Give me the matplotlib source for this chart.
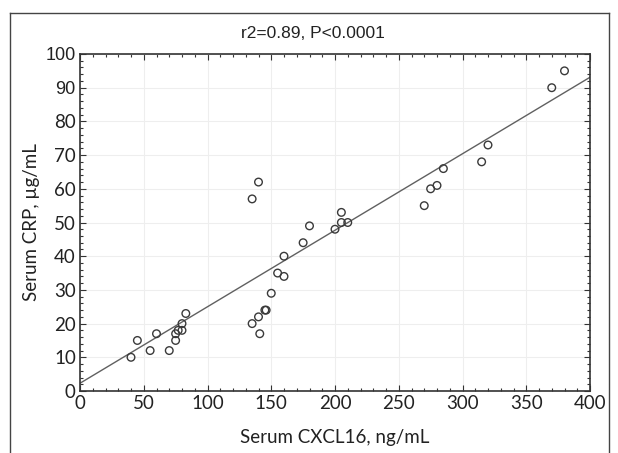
import matplotlib.pyplot as plt
from matplotlib.lines import Line2D
from matplotlib.ticker import MultipleLocator

# serum CXCL16 (ng/mL) vs serum CRP (ug/mL)
cxcl16 = [40, 45, 55, 60, 70, 75, 75, 77, 80, 80, 83,
          135, 140, 135, 140, 141, 145, 146, 150, 155, 160, 160,
          175, 180, 200, 205, 210, 205,
          270, 275, 280, 285, 315, 320, 370, 380]
crp = [10, 15, 12, 17, 12, 15, 17, 18, 18, 20, 23,
       57, 62, 20, 22, 17, 24, 24, 29, 35, 34, 40,
       44, 49, 48, 50, 50, 53,
       55, 60, 61, 66, 68, 73, 90, 95]

# regression line as drawn (intercept, slope)
fit_intercept = 2.3
fit_slope = 0.227
line_x = [0, 400]

title = "r2=0.89, P<0.0001"
xlabel = "Serum CXCL16, ng/mL"
ylabel = "Serum CRP, \u00b5g/mL"

fig = plt.figure(figsize=(6.18, 4.53), dpi=100)
ax = fig.add_axes([80 / 618, 1 - 391 / 453, 510 / 618, 337 / 453])

ax.grid(True, color='#eeeeee', linewidth=0.8, zorder=0)
ax.scatter(cxcl16, crp, s=30, facecolors='none', edgecolors='#3a3a3a',
           linewidths=1.0, zorder=3)
ax.plot(line_x, [fit_intercept + fit_slope * v for v in line_x],
        color='#606060', linewidth=1.0, zorder=2)

ax.set_xlim(0, 400)
ax.set_ylim(0, 100)
ax.xaxis.set_major_locator(MultipleLocator(50))
ax.xaxis.set_minor_locator(MultipleLocator(10))
ax.yaxis.set_major_locator(MultipleLocator(10))
ax.yaxis.set_minor_locator(MultipleLocator(2))
ax.tick_params(which='both', direction='in', top=True, right=True,
               color='#333333', width=0.8)
ax.tick_params(which='major', length=4, labelsize=13.5, pad=3)
ax.tick_params(which='minor', length=2)
fig.canvas.draw()
for lab in ax.get_xticklabels() + ax.get_yticklabels():
    lab.set_fontfamily('Lato')
    lab.set_color('#222222')
# the two top y labels use a plainer face in the original
for lab in ax.get_yticklabels():
    if lab.get_text() in ('100', '90'):
        lab.set_fontfamily('Liberation Sans')
        lab.set_fontsize(13)
for s in ax.spines.values():
    s.set_color('#333333')
    s.set_linewidth(1.2)

ax.set_xlabel(xlabel, fontsize=13.5, family='Lato', color='#222222', labelpad=12)
ax.set_ylabel(ylabel, fontsize=13.5, family='Lato', color='#222222', labelpad=4)
fig.text(313 / 618, 1 - 33 / 453, title, ha='center', va='center',
         fontsize=12.5, family='Liberation Sans', color='#222222')

# outer frame (open at the bottom)
fx0, fx1, fy = 10 / 618, 609 / 618, 1 - 13 / 453
for xs, ys in [([fx0, fx0], [0, fy]), ([fx0, fx1], [fy, fy]), ([fx1, fx1], [fy, 0])]:
    fig.add_artist(Line2D(xs, ys, color='#444444', linewidth=1.0,
                          transform=fig.transFigure))

fig.savefig('out.png', dpi=100)
